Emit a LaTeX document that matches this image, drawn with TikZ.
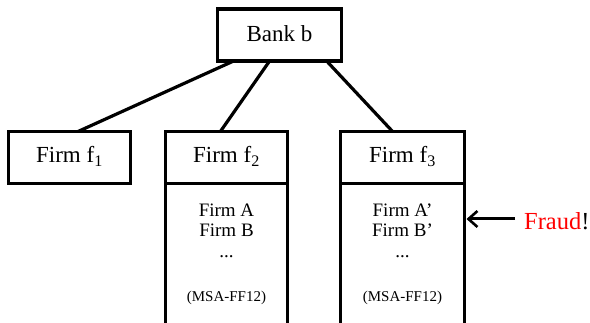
\documentclass[tikz,border=0pt]{standalone}
\usepackage{fontspec}
\setmainfont{Liberation Serif}
\usetikzlibrary{arrows.meta,calc}
\begin{document}
\begin{tikzpicture}[x=1pt,y=-1pt,
  box/.style={draw=black,line width=3.4pt,rectangle,inner sep=0pt,outer sep=0pt,
    minimum height=52pt},
  head/.style={font=\fontsize{23}{27}\selectfont},
  item/.style={font=\fontsize{19}{22}\selectfont,anchor=base},
  small/.style={font=\fontsize{15}{18}\selectfont,anchor=base},
  link/.style={line width=3.2pt},
]
\useasboundingbox (0,0) rectangle (590,323);
\clip (0,0) rectangle (590,323);

% top-level bank
\node[box,minimum width=124pt] (bank) at (279.5,35) {};
\node[head,anchor=base] (banktxt) at (279.5,42) {Bank b};

% firm without subsidiaries
\node[box,minimum width=122pt] (f1) at (69.5,157.5) {};
\node[head,anchor=base] (f1txt) at (69.5,163) {Firm f\textsubscript{1}};

% firm f2 with its list of subsidiaries
\node[box,minimum width=122pt] (f2) at (226.5,157.5) {};
\node[head,anchor=base] (f2txt) at (226.5,163) {Firm f\textsubscript{2}};
\node[box,minimum width=122pt,minimum height=160pt,anchor=north] (f2body) at (f2.south) {};
\node[item] (a2) at (226.5,217) {Firm A};
\node[item] (b2) at (226.5,237) {Firm B};
\node[item] (d2) at (226.5,258) {...};
\node[small] (m2) at (226.5,302) {(MSA-FF12)};

% firm f3 with its list of subsidiaries
\node[box,minimum width=124pt] (f3) at (402.5,157.5) {};
\node[head,anchor=base] (f3txt) at (402.5,163) {Firm f\textsubscript{3}};
\node[box,minimum width=124pt,minimum height=160pt,anchor=north] (f3body) at (f3.south) {};
\node[item] (a3) at (402.5,217) {Firm A’};
\node[item] (b3) at (402.5,237) {Firm B’};
\node[item] (d3) at (402.5,258) {...};
\node[small] (m3) at (402.5,302) {(MSA-FF12)};

% ownership links
\draw[link] ($(bank.south west)!0.13!(bank.south east)$) -- ($(f1.north west)!0.57!(f1.north east)$);
\draw[link] ($(bank.south west)!0.42!(bank.south east)$) -- ($(f2.north west)!0.45!(f2.north east)$);
\draw[link] ($(bank.south west)!0.88!(bank.south east)$) -- ($(f3.north west)!0.42!(f3.north east)$);

% fraud marker
\node[font=\fontsize{24.5}{28}\selectfont,anchor=base west,inner sep=0pt] (fraud) at (524,230) {\textcolor{red}{Fraud}!};
\coordinate (ftail) at (515,219);
\draw[line width=3pt,-{Straight Barb[length=9pt,width=16pt,line width=2.6pt]}] (ftail) -- ([xshift=2pt]f3body.east |- ftail);
\end{tikzpicture}
\end{document}
